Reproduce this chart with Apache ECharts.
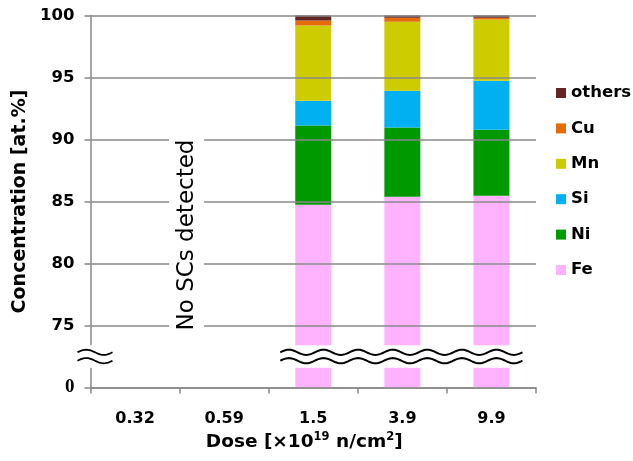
<!DOCTYPE html>
<html><head><meta charset="utf-8">
<script src="https://cdn.jsdelivr.net/npm/echarts@6/dist/echarts.min.js"></script>
<style>html,body{margin:0;padding:0;background:#fff}#c{width:633px;height:461px}</style>
</head><body><div id="c"></div>
<script>
// ---- data ----
const doses = ['0.32', '0.59', '1.5', '3.9', '9.9'];
const fe     = [null, null, 84.73, 85.38, 85.46];
const ni     = [null, null, 6.40, 5.59, 5.32];
const si     = [null, null, 1.99, 2.96, 3.95];
const mn     = [null, null, 6.07, 5.56, 4.95];
const cu     = [null, null, 0.41, 0.32, 0.13];
const others = [null, null, 0.40, 0.19, 0.19];
const seriesNames = ['Fe', 'Ni', 'Si', 'Mn', 'Cu', 'others'];
const legendOrder = ['others', 'Cu', 'Mn', 'Si', 'Ni', 'Fe'];
const yTickValues = [75, 80, 85, 90, 95, 100];
const axisBreakBottom = 70;      // display value standing for the real 0
const breakGapRange = [71.6, 73.4]; // blank band of the broken axis
const noDataNote = 'No SCs detected';

const colors = {Fe: '#ffb3ff', Ni: '#009900', Si: '#00b0f0', Mn: '#cccc00', Cu: '#e46c0a', others: '#632523'};
const values = {Fe: fe, Ni: ni, Si: si, Mn: mn, Cu: cu, others: others};
const FONT = 'DejaVu Sans';

const chart = echarts.init(document.getElementById('c'), null, {renderer: 'canvas'});

const option = {
  animation: false,
  backgroundColor: '#fff',
  grid: {left: 90.5, right: 97, top: 15.5, bottom: 73.5},
  legend: {
    data: legendOrder,
    orient: 'vertical',
    left: 556, top: 84.5, padding: 0,
    itemWidth: 10, itemHeight: 10, itemGap: 18.4,
    icon: 'rect',
    textStyle: {fontFamily: FONT, fontWeight: 'bold', fontSize: 16.5, color: '#000', lineHeight: 16}
  },
  xAxis: {
    type: 'category',
    data: doses,
    axisLine: {lineStyle: {color: '#888', width: 1.5}},
    axisTick: {show: true, length: 6, alignWithLabel: false, lineStyle: {color: '#888', width: 1.5}},
    axisLabel: {fontFamily: FONT, fontWeight: 'bold', fontSize: 16, color: '#000', margin: 23},
    name: 'Dose [×10{sup|19} n/cm{sup|2}]',
    nameLocation: 'middle',
    nameGap: 33,
    nameTextStyle: {
      fontFamily: FONT, fontWeight: 'bold', fontSize: 18.5, color: '#000', lineHeight: 22,
      padding: [0, 18, 0, 0],
      rich: {sup: {fontFamily: FONT, fontWeight: 'bold', fontSize: 11.5, color: '#000', verticalAlign: 'top', lineHeight: 14}}
    }
  },
  yAxis: {
    type: 'value',
    min: axisBreakBottom, max: 100, interval: 5,
    z: 10,
    axisLine: {show: true, lineStyle: {color: '#888', width: 1.5}},
    axisTick: {show: true, length: 6, lineStyle: {color: '#888', width: 1.5}},
    splitLine: {show: true, lineStyle: {color: '#888', width: 1.5}},
    axisLabel: {
      margin: 16,
      formatter: function (v) {
        if (v === axisBreakBottom) return '{z|0}';
        return yTickValues.indexOf(v) >= 0 ? '{n|' + v + '}' : '';
      },
      rich: {
        n: {fontFamily: FONT, fontWeight: 'bold', fontSize: 16.5, color: '#000'},
        z: {fontFamily: 'Liberation Serif', fontWeight: 'bold', fontSize: 19, color: '#000'}
      }
    },
    name: 'Concentration [at.%]',
    nameLocation: 'middle',
    nameGap: 60,
    nameTextStyle: {fontFamily: FONT, fontWeight: 'bold', fontSize: 19, color: '#000'}
  },
  series: seriesNames.map(function (n) {
    return {
      name: n, type: 'bar', stack: 'total', barWidth: 36,
      itemStyle: {color: colors[n]},
      data: values[n].map(function (v) { return v === null ? '-' : v; })
    };
  })
};
chart.setOption(option);

// ---- decorations: axis break & annotation, positioned via the chart's scales ----
function wavePoints(x0, x1, yc, periods, amp) {
  const pts = [];
  const n = Math.max(8, Math.round(periods * 24));
  for (let i = 0; i <= n; i++) {
    const t = i / n;
    pts.push([x0 + (x1 - x0) * t, yc - amp * Math.sin(t * periods * 2 * Math.PI)]);
  }
  return pts;
}
const xAxisObj = chart.getModel().getComponent('xAxis', 0).axis;
const band = xAxisObj.getBandWidth();
const yTop = chart.convertToPixel({yAxisIndex: 0}, breakGapRange[1]);
const yBot = chart.convertToPixel({yAxisIndex: 0}, breakGapRange[0]);
const yMid = (yTop + yBot) / 2;
const axisX = chart.convertToPixel({xAxisIndex: 0}, doses[0]) - band / 2;
const xFirstBar = chart.convertToPixel({xAxisIndex: 0}, doses[2]);
const xLastBar = chart.convertToPixel({xAxisIndex: 0}, doses[4]);
const waveL = xFirstBar - 33, waveR = xLastBar + 31;
const lineStyle = {stroke: '#000', lineWidth: 2, fill: null};
const graphics = [
  {type: 'rect', z: 100, shape: {x: axisX - 3, y: yTop, width: band * 5 + 4, height: yBot - yTop}, style: {fill: '#fff'}},
  {type: 'polyline', z: 101, shape: {points: wavePoints(waveL, waveR, yMid - 4.2, 7, 2.6)}, style: lineStyle},
  {type: 'polyline', z: 101, shape: {points: wavePoints(waveL, waveR, yMid + 4.2, 7, 2.6)}, style: lineStyle},
  {type: 'polyline', z: 101, shape: {points: wavePoints(axisX - 13, axisX + 22, yMid - 4.2, 1, 2.6)}, style: {stroke: '#000', lineWidth: 1.8, fill: null}},
  {type: 'polyline', z: 101, shape: {points: wavePoints(axisX - 13, axisX + 22, yMid + 4.2, 1, 2.6)}, style: {stroke: '#000', lineWidth: 1.8, fill: null}},
  {type: 'text', z: 101, x: axisX + band + 7, y: chart.convertToPixel({yAxisIndex: 0}, 82.3), rotation: Math.PI / 2,
    style: {text: noDataNote, fontFamily: FONT, fontSize: 23, fill: '#000', align: 'center', verticalAlign: 'middle',
      backgroundColor: '#fff', padding: [6, 4]}}
];
chart.setOption({graphic: graphics});
</script>
</body></html>
